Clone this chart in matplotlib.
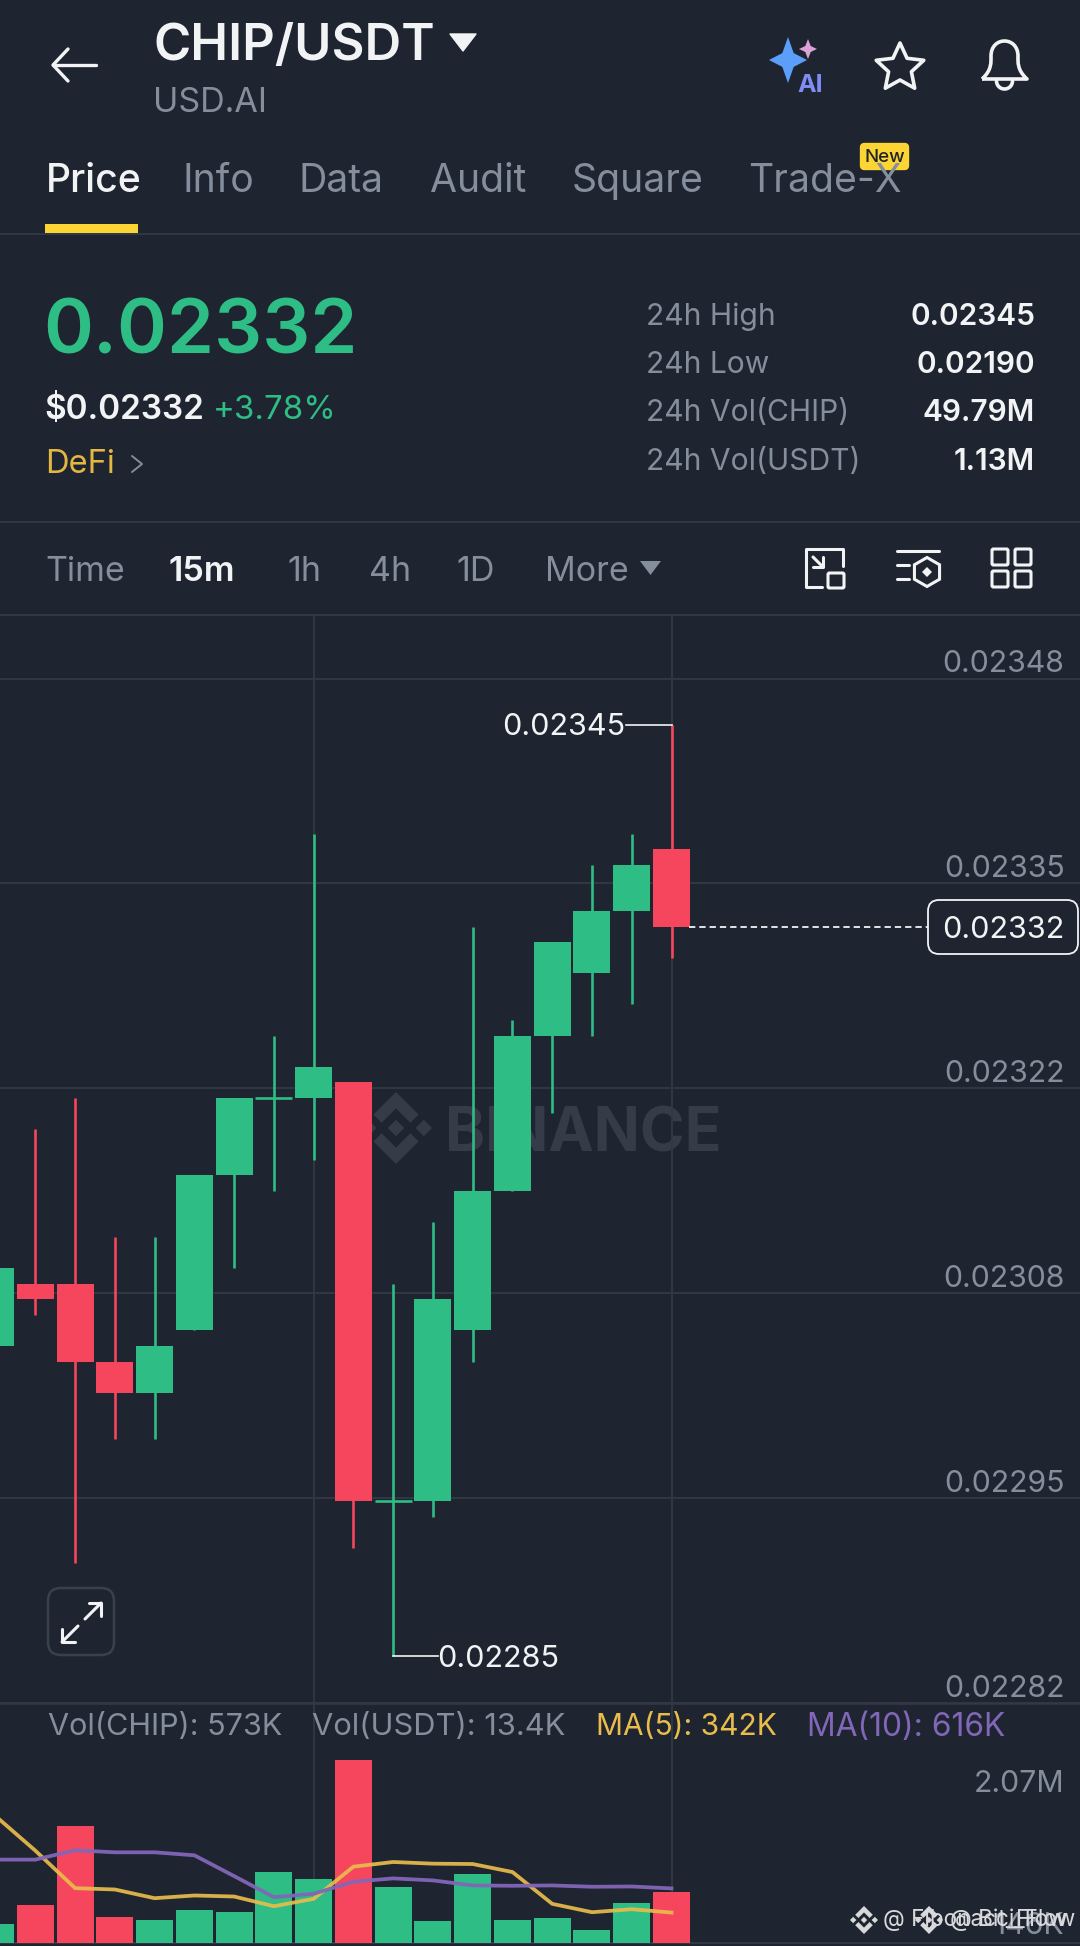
#!/usr/bin/env python
"""
CHIP/USDT 15m candles and volume, phone screenshot layout.
"""
import numpy as np
import matplotlib
matplotlib.use("Agg")
import matplotlib.pyplot as plt
from matplotlib.patches import FancyBboxPatch, Polygon, PathPatch, RegularPolygon, Rectangle
from matplotlib.path import Path

plt.rcParams['font.family'] = ['Inter', 'DejaVu Sans']

# oldest candle first, newest last
opens = [0.02305, 0.02309, 0.02309, 0.02304, 0.02302, 0.02306, 0.02316, 0.02321, 0.02321,
         0.02322, 0.02295, 0.02295, 0.02306, 0.02315, 0.02325, 0.02329, 0.02333, 0.02337]
closes = [0.02310, 0.02308, 0.02304, 0.02302, 0.02305, 0.02316, 0.02321, 0.02321, 0.02323,
          0.02295, 0.02295, 0.02308, 0.02315, 0.02325, 0.02331, 0.02333, 0.02336, 0.02332]
highs = [0.02310, 0.02319, 0.02321, 0.02312, 0.02312, 0.02316, 0.02321, 0.02325, 0.02338,
         0.02322, 0.02309, 0.02313, 0.02332, 0.02326, 0.02331, 0.02336, 0.02338, 0.02345]
lows = [0.02305, 0.02307, 0.02291, 0.02299, 0.02299, 0.02306, 0.02310, 0.02315, 0.02317,
        0.02292, 0.02285, 0.02294, 0.02304, 0.02315, 0.02320, 0.02325, 0.02327, 0.02330]
volumes = [209, 430, 1322, 296, 254, 373, 346, 798, 722,
           2070, 635, 243, 775, 254, 281, 145, 456, 573]
ma5 = [1437, 1045, 619, 604, 505, 536, 524, 414, 498,
       863, 916, 897, 893, 802, 441, 346, 380, 342]
ma10 = [943, 943, 1049, 1026, 1026, 992, 756, 517, 555,
        692, 730, 707, 650, 646, 650, 635, 638, 616]

price_ticks = [0.02348, 0.023348, 0.023216, 0.023084, 0.022952, 0.02282]
price_tick_labels = ["0.02348", "0.02335", "0.02322", "0.02308", "0.02295", "0.02282"]
vol_tick_labels = ["2.07M", "146K"]

tabs = ["Price", "Info", "Data", "Audit", "Square", "Trade-X"]
tab_x = [46, 182, 299, 430, 572, 748]
intervals = ["Time", "15m", "1h", "4h", "1D", "More"]
interval_x = [45, 169, 287, 369, 456, 545]
stat_names = ["24h High", "24h Low", "24h Vol(CHIP)", "24h Vol(USDT)"]
stat_values = ["0.02345", "0.02190", "49.79M", "1.13M"]

BG = "#1e2430"
GRID = "#323945"
GREEN = "#2ebd85"
RED = "#f6465d"
GREY = "#848e9c"
WHITE = "#f2f3f5"
YELLOW = "#fcd535"
MA_YEL = "#e9bc4c"
MA_PUR = "#8266b8"

W, H = 1080, 1946
SPACING = 39.76
LAST_X = 671.5


def px_axes(fig, top, bottom, zorder):
    ax = fig.add_axes([0, 1 - bottom / H, 1, (bottom - top) / H], zorder=zorder)
    ax.patch.set_visible(False)
    ax.set_axis_off()
    return ax


def line(ax, xs, ys, color=WHITE, lw=2.2, **kw):
    ax.plot(xs, ys, color=color, lw=lw, solid_capstyle="round", solid_joinstyle="round", **kw)


def binance_logo(ax, cx, cy, s, color, zorder=1):
    # s = half height of the logo in pixels
    u = s / 7.0
    shapes = [
        [(-1.6, 0), (0, -1.6), (1.6, 0), (0, 1.6)],
        [(-7, 0), (-5.4, -1.6), (-3.8, 0), (-5.4, 1.6)],
        [(7, 0), (5.4, -1.6), (3.8, 0), (5.4, 1.6)],
        [(0, -7), (4.4, -2.6), (2.8, -1.0), (0, -3.8), (-2.8, -1.0), (-4.4, -2.6)],
        [(0, 7), (4.4, 2.6), (2.8, 1.0), (0, 3.8), (-2.8, 1.0), (-4.4, 2.6)],
    ]
    for pts in shapes:
        ax.add_patch(Polygon([(cx + a * u, cy + b * u) for a, b in pts], closed=True,
                             fc=color, ec="none", zorder=zorder))


def sparkle(ax, cx, cy, rx, ry, color):
    k = 0.3
    pts = [(cx, cy - ry), (cx + rx * k, cy - ry * k), (cx + rx, cy), (cx + rx * k, cy + ry * k),
           (cx, cy + ry), (cx - rx * k, cy + ry * k), (cx - rx, cy), (cx - rx * k, cy - ry * k)]
    ax.add_patch(Polygon(pts, closed=True, fc=color, ec="none"))


def draw_header(ui):
    # back arrow
    line(ui, [53, 96], [65, 65], lw=2.4)
    line(ui, [68, 53, 68], [49, 65, 81], lw=2.4)
    ui.text(153, 60, "CHIP/USDT", color=WHITE, fontsize=36.5, fontweight="semibold")
    ui.add_patch(Polygon([(450, 34), (476, 34), (463, 51)], closed=True, fc=WHITE, ec=WHITE,
                         lw=1, joinstyle="round"))
    ui.text(153, 112, "USD.AI", color=GREY, fontsize=24.5)

    # ai, star and bell
    sparkle(ui, 788, 60, 19, 23, "#5b9ffb")
    sparkle(ui, 808, 49, 9, 10, "#d9a3d6")
    ui.text(797, 92, "AI", color="#7f8cf5", fontsize=18, fontweight="bold")
    ang = np.deg2rad(np.arange(10) * 36 - 90)
    rad = np.where(np.arange(10) % 2 == 0, 25, 12)
    ui.add_patch(Polygon(np.c_[900 + rad * np.cos(ang), 68 + rad * np.sin(ang)], closed=True,
                         fc="none", ec=WHITE, lw=2.6, joinstyle="round"))
    verts = [(982, 79), (992, 70), (991, 62), (991, 56), (991, 36), (1018, 36), (1018, 56),
             (1018, 62), (1017, 70), (1027, 79), (982, 79)]
    codes = [Path.MOVETO] + [Path.CURVE4] * 9 + [Path.LINETO]
    ui.add_patch(PathPatch(Path(verts, codes), fc="none", ec=WHITE, lw=2.6, joinstyle="round"))
    t = np.linspace(0, np.pi, 20)
    line(ui, 1004.5 + 8 * np.cos(t), 81 + 8 * np.sin(t), lw=2.6)

    # tabs
    for i, (name, x) in enumerate(zip(tabs, tab_x)):
        ui.text(x, 191.5, name, color=WHITE if i == 0 else GREY, fontsize=28.2,
                fontweight="medium" if i == 0 else "normal")
    ui.add_patch(FancyBboxPatch((864, 147), 41, 19, boxstyle="round,pad=0,rounding_size=0",
                                fc=YELLOW, ec=YELLOW, lw=6, joinstyle="round"))
    ui.text(884.5, 157, "New", color="#1e2329", fontsize=13.5, fontweight="medium",
            ha="center", va="center")
    ui.add_patch(Rectangle((45, 224), 93, 9, fc=YELLOW, ec="none"))
    for y in [233.5, 522, 614.5]:
        ui.plot([0, W], [y, y], color=GRID, lw=1.4)

    # price block
    ui.text(43.5, 353, "0.02332", color=GREEN, fontsize=54.5, fontweight="semibold")
    ui.text(44, 419, "$0.02332", color=WHITE, fontsize=24, fontweight="semibold")
    ui.text(213, 419, "+3.78%", color=GREEN, fontsize=23.8)
    ui.text(45, 473, "DeFi", color="#e4b741", fontsize=23.5)
    line(ui, [132, 142, 132], [456, 464, 472], color=GREY, lw=1.4)
    for name, val, y in zip(stat_names, stat_values, [325, 373, 421, 469.5]):
        ui.text(646, y, name, color=GREY, fontsize=21.6)
        ui.text(1035, y, val, color=WHITE, fontsize=21.5, fontweight="semibold", ha="right")

    # interval row
    for i, (name, x) in enumerate(zip(intervals, interval_x)):
        sel = i == 1
        ui.text(x, 581, name, color=WHITE if sel else GREY, fontsize=24.5,
                fontweight="semibold" if sel else "normal")
    ui.add_patch(Polygon([(640, 561), (661, 561), (650.5, 575)], closed=True, fc=GREY, ec="none"))

    # toolbar icons
    line(ui, [822, 806, 806, 843, 843], [587, 587, 549, 549, 566])
    ui.add_patch(FancyBboxPatch((828, 573), 16, 15, boxstyle="round,pad=0,rounding_size=1.5",
                                fc="none", ec=WHITE, lw=2.2))
    line(ui, [813, 823], [557, 567])
    line(ui, [813, 823, 823], [567, 567, 557])
    line(ui, [897, 939], [551, 551])
    line(ui, [897, 909], [565, 565])
    line(ui, [897, 909], [579, 579])
    ui.add_patch(RegularPolygon((927, 572), 6, radius=14.5, fc="none", ec=WHITE, lw=2.2))
    ui.add_patch(RegularPolygon((927, 572), 4, radius=5, fc=WHITE, ec="none"))
    for x in [992, 1015]:
        for y in [549, 571]:
            ui.add_patch(FancyBboxPatch((x, y), 16, 16, boxstyle="round,pad=0,rounding_size=1.5",
                                        fc="none", ec=WHITE, lw=2.2))


def draw_candles(ax, x, up):
    for i in range(len(x)):
        ax.vlines(x[i], lows[i], highs[i], color=GREEN if up[i] else RED, lw=1.9, zorder=3)
    body = np.array(closes) - np.array(opens)
    colors = [GREEN if u else RED for u in up]
    ax.bar(x, np.abs(body), bottom=np.minimum(opens, closes), width=0.93, color=colors, zorder=4)
    doji = body == 0
    ax.hlines(np.array(closes)[doji], x[doji] - 0.465, x[doji] + 0.465, color=GREEN, lw=1.9, zorder=4)


def main():
    fig = plt.figure(figsize=(W / 100, H / 100), dpi=100, facecolor=BG)

    bg = px_axes(fig, 0, H, 0)
    bg.set_xlim(0, W)
    bg.set_ylim(H, 0)
    ui = px_axes(fig, 0, H, 5)
    ui.set_xlim(0, W)
    ui.set_ylim(H, 0)

    n = len(opens)
    x = np.arange(n, dtype=float)
    up = [c >= o for o, c in zip(opens, closes)]
    xlim = (n - 1 - LAST_X / SPACING, n - 1 + (W - LAST_X) / SPACING)

    # price pane
    ax = px_axes(fig, 615, 1703, 2)
    ax.set_xlim(*xlim)
    ax.set_ylim(0.02282, 0.02348 + (678.5 - 615) / 15.52 * 1e-5)
    for p in price_ticks:
        ax.axhline(p, color=GRID, lw=1.3, zorder=1)
    for v in [x[8], x[17]]:
        ax.axvline(v, color=GRID, lw=1.3, zorder=1)
    draw_candles(ax, x, up)

    trans = ax.get_yaxis_transform()
    for p, lab in zip(price_ticks, price_tick_labels):
        ax.annotate(lab, xy=(1064.5 / W, p), xycoords=trans, xytext=(0, 10.3),
                    textcoords="offset points", ha="right", va="center", color=GREY, fontsize=21.8)

    # high / low markers
    hi = int(np.argmax(highs))
    lo = int(np.argmin(lows))
    ax.plot([x[hi], x[hi] - 46 / SPACING], [highs[hi], highs[hi]], color=WHITE, lw=1.2, zorder=5)
    ax.annotate("0.02345", xy=(x[hi] - 46 / SPACING, highs[hi]), xytext=(0, -1.5),
                textcoords="offset points", ha="right", va="center", color=WHITE, fontsize=22)
    ax.plot([x[lo], x[lo] + 45 / SPACING], [lows[lo], lows[lo]], color=WHITE, lw=1.2, zorder=5)
    ax.annotate("0.02285", xy=(x[lo] + 45 / SPACING, lows[lo]), xytext=(-1, -1.5),
                textcoords="offset points", ha="left", va="center", color=WHITE, fontsize=22)

    # last price
    ax.plot([x[-1] + 17.5 / SPACING, x[-1] + 256 / SPACING], [closes[-1], closes[-1]], color=WHITE,
            lw=1.3, ls=(0, (3.5, 2.2)), zorder=5)
    ui.add_patch(FancyBboxPatch((928, 900), 150, 54, boxstyle="round,pad=0,rounding_size=11",
                                fc=BG, ec=WHITE, lw=1.3))
    ui.text(1064.5, 929.5, "0.02332", color=WHITE, fontsize=22, ha="right", va="center")

    # watermark
    binance_logo(bg, 396, 1128, 36, "#363c47")
    bg.text(445, 1151, "BINANCE", color="#363c47", fontsize=43.7, fontweight="bold")

    # expand button
    ui.add_patch(FancyBboxPatch((48, 1588), 66, 67, boxstyle="round,pad=0,rounding_size=13",
                                fc=BG, ec="#3a404c", lw=1.8))
    line(ui, [85, 101], [1619, 1603], lw=2.2)
    line(ui, [89, 101, 101], [1603, 1603, 1616], lw=2.2)
    line(ui, [78, 62], [1626, 1642], lw=2.2)
    line(ui, [62, 62, 75], [1629, 1642, 1642], lw=2.2)

    # volume pane
    vol = px_axes(fig, 1703, H, 2)
    k_per_px = 11.35
    vol.set_xlim(*xlim)
    vol.set_ylim(-(H - 1942.7) * k_per_px, (1942.7 - 1703) * k_per_px)
    vol.axhline(0, color=GRID, lw=1.3, zorder=1)
    vol.axhline((1942.7 - 1703) * k_per_px, color=GRID, lw=2.6, zorder=1)
    for v in [x[8], x[17]]:
        vol.axvline(v, color=GRID, lw=1.3, ymin=(H - 1942.7) / (H - 1703), zorder=1)
    vol.bar(x, volumes, width=0.93, color=[GREEN if u else RED for u in up], zorder=3)
    vol.plot(x, ma5, color=MA_YEL, lw=2.7, alpha=0.92, zorder=4)
    vol.plot(x, ma10, color=MA_PUR, lw=2.7, alpha=0.95, zorder=4)

    ui.text(48, 1727, "Vol(CHIP): 573K", color=GREY, fontsize=22, va="center")
    ui.text(312, 1727, "Vol(USDT): 13.4K", color=GREY, fontsize=22.2, va="center")
    ui.text(596, 1727, "MA(5): 342K", color=MA_YEL, fontsize=21.5, va="center")
    ui.text(807, 1727, "MA(10): 616K", color=MA_PUR, fontsize=22.9, va="center")
    ui.text(1064.5, 1783.5, vol_tick_labels[0], color=GREY, fontsize=21.8, ha="right", va="center")
    ui.text(1064.5, 1926, vol_tick_labels[1], color=GREY, fontsize=21.8, ha="right", va="center")

    # overlaid reposter marks
    binance_logo(ui, 864, 1920, 14, "#d8d9db", zorder=6)
    ui.text(883, 1920, "@ Fibonacci_Flow", color="#d8d9db", fontsize=16.2, va="center", zorder=6)
    binance_logo(ui, 929, 1920, 14, "#d8d9db", zorder=6)
    ui.text(950, 1920, "@ Bit_Flow", color="#d8d9db", fontsize=16.2, va="center", zorder=6)

    draw_header(ui)
    fig.savefig("out.png", dpi=100, facecolor=BG)


if __name__ == "__main__":
    main()
